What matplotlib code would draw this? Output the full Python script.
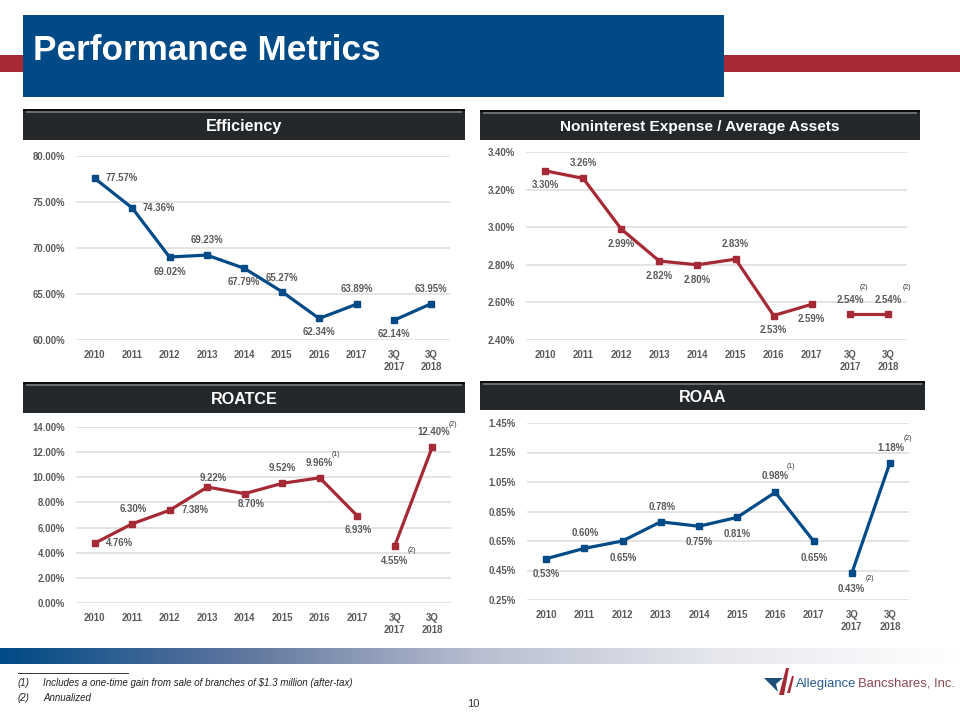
import numpy as np
import matplotlib
matplotlib.use('Agg')
import matplotlib.pyplot as plt
from matplotlib.colors import LinearSegmentedColormap
from matplotlib.patches import Rectangle, Polygon

plt.rcParams['font.family'] = ['Liberation Sans', 'DejaVu Sans']

BLUE = '#004b87'
RED = '#a62a36'
GREY = '#595959'

categories = ['2010', '2011', '2012', '2013', '2014', '2015', '2016', '2017', '3Q\n2017', '3Q\n2018']

efficiency = [77.57, 74.36, 69.02, 69.23, 67.79, 65.27, 62.34, 63.89, 62.14, 63.95]
nonint_exp = [3.30, 3.26, 2.99, 2.82, 2.80, 2.83, 2.53, 2.59, 2.54, 2.54]
roatce = [4.76, 6.30, 7.38, 9.22, 8.70, 9.52, 9.96, 6.93, 4.55, 12.40]
roaa = [0.53, 0.60, 0.65, 0.78, 0.75, 0.81, 0.98, 0.65, 0.43, 1.18]

efficiency_ticks = [60, 65, 70, 75, 80]
nonint_ticks = [2.4, 2.6, 2.8, 3.0, 3.2, 3.4]
roatce_ticks = [0, 2, 4, 6, 8, 10, 12, 14]
roaa_ticks = [0.25, 0.45, 0.65, 0.85, 1.05, 1.25, 1.45]

# label offsets from the point, in pixels
efficiency_off = [(27, 0), (27, 0), (0, -15), (0, 15), (0, -14), (0, 14), (0, -14), (0, 15), (0, -14), (0, 15)]
nonint_off = [(0, -14), (0, 15), (0, -15), (0, -15), (0, -15), (0, 15), (0, -14), (0, -15), (0, 14), (0, 14)]
roatce_off = [(25, 0), (1, 15), (25, 0), (6, 9), (6, -10), (0, 15), (0, 15), (1, -14), (0, -15), (1, 15)]
roaa_off = [(0, -15), (1, 15), (1, -17), (1, 15), (0, -16), (0, -17), (0, 16), (1, -17), (0, -16), (1, 15)]

# footnote marks: index, text, offset
nonint_notes = [(8, '(2)', 14, 26), (9, '(2)', 19, 26)]
roatce_notes = [(6, '(1)', 16, 23), (8, '(2)', 17, -5), (9, '(2)', 21, 23)]
roaa_notes = [(6, '(1)', 16, 26), (8, '(2)', 18, -5), (9, '(2)', 18, 24)]


def px_axes(fig, left, top, right, bottom):
    return fig.add_axes([left / 960, 1 - bottom / 720, (right - left) / 960, (bottom - top) / 720])


def draw_chart(fig, box, values, ticks, color, offsets, notes=()):
    ax = px_axes(fig, *box)
    ax.set_facecolor('none')
    x = np.arange(len(values))
    ax.plot(x[:8], values[:8], color=color, lw=2.3, marker='s', ms=5, solid_joinstyle='miter')
    ax.plot(x[8:], values[8:], color=color, lw=2.3, marker='s', ms=5)
    ax.set_xlim(-0.5, 9.5)
    ax.set_ylim(ticks[0], ticks[-1])
    ax.set_yticks(ticks)
    ax.set_yticklabels([f'{t:.2f}%' for t in ticks])
    ax.set_xticks(x)
    ax.set_xticklabels(categories, linespacing=1.3)
    ax.tick_params(length=0, labelsize=6.9, labelcolor=GREY)
    ax.tick_params(axis='y', pad=8)
    ax.tick_params(axis='x', pad=7.2)
    for lab in ax.get_xticklabels() + ax.get_yticklabels():
        lab.set_fontweight('bold')
    ax.grid(axis='y', color='#dcdcdc', lw=1.1)
    ax.set_axisbelow(True)
    for s in ax.spines.values():
        s.set_visible(False)
    for i, v in enumerate(values):
        dx, dy = offsets[i]
        ax.annotate(f'{v:.2f}%', (i, v), xytext=(dx * 0.72, dy * 0.72), textcoords='offset points',
                    ha='center', va='center', fontsize=6.9, fontweight='bold', color=GREY,
                    annotation_clip=False)
    for i, txt, dx, dy in notes:
        ax.annotate(txt, (i, values[i]), xytext=(dx * 0.72, dy * 0.72), textcoords='offset points',
                    ha='center', va='center', fontsize=5, color='#333333', annotation_clip=False)
    return ax


def header(bg, left, top, right, bottom, text, size=11.6):
    bg.add_patch(Rectangle((left, top), right - left, bottom - top, color='#25282b', lw=0))
    bg.add_patch(Rectangle((left, top), right - left, 1.5, color='#0d0d0d', lw=0))
    bg.add_patch(Rectangle((left + 3, top + 2), right - left - 6, 2, color='#6a6d70', lw=0))
    bg.text((left + right) / 2, (top + bottom) / 2 + 2, text, color='white', fontsize=size,
            fontweight='bold', ha='center', va='center')


fig = plt.figure(figsize=(9.6, 7.2), dpi=100, facecolor='white')

# slide furniture, drawn in pixel coordinates
bg = fig.add_axes([0, 0, 1, 1])
bg.set_xlim(0, 960)
bg.set_ylim(720, 0)
bg.axis('off')

bg.add_patch(Rectangle((0, 55), 960, 17, color=RED, lw=0))
bg.add_patch(Rectangle((23, 15), 701, 82, color=BLUE, lw=0))
bg.text(33, 50, 'Performance Metrics', color='white', fontsize=25.3, fontweight='bold', ha='left', va='center')

header(bg, 23, 109, 465, 140, 'Efficiency')
header(bg, 480, 110, 920, 140, 'Noninterest Expense / Average Assets', size=11.1)
header(bg, 23, 382, 465, 413, 'ROATCE')
header(bg, 480, 381, 925, 410, 'ROAA')

fade = LinearSegmentedColormap.from_list('fade', [(0, BLUE), (0.25, '#5f759e'), (0.5, '#b8bfd0'), (0.75, '#e6e8ee'), (1, '#ffffff')])
bg.imshow(np.linspace(0, 1, 256).reshape(1, -1), cmap=fade, extent=(0, 960, 664, 648), aspect='auto', zorder=1)
bg.set_xlim(0, 960)
bg.set_ylim(720, 0)

bg.plot([18, 128], [673, 673], color='#333333', lw=0.7)
bg.text(18, 683, '(1)', fontsize=7, style='italic', color='#222222', ha='left', va='center')
bg.text(43, 683, 'Includes a one-time gain from sale of branches of $1.3 million (after-tax)',
        fontsize=7, style='italic', color='#222222', ha='left', va='center')
bg.text(18, 698, '(2)', fontsize=7, style='italic', color='#222222', ha='left', va='center')
bg.text(43, 698, 'Annualized', fontsize=7, style='italic', color='#222222', ha='left', va='center')
bg.text(473, 704, '10', fontsize=8, color='#333333', ha='center', va='center')

# logo
bg.add_patch(Polygon([(764, 678), (783, 678), (776, 684), (778, 692), (772, 686)], color='#1f4e79', lw=0))
bg.add_patch(Polygon([(779, 695), (786, 668), (789, 668), (784, 695)], color=RED, lw=0))
bg.add_patch(Polygon([(787, 693), (792, 676), (794, 676), (790, 693)], color=RED, lw=0))
bg.text(796, 684, 'Allegiance', fontsize=9.4, color='#2b5c8f', ha='left', va='center')
bg.text(858, 684, 'Bancshares, Inc.', fontsize=9.4, color='#8c4a50', ha='left', va='center')

draw_chart(fig, (76, 156, 450, 340), efficiency, efficiency_ticks, BLUE, efficiency_off)
draw_chart(fig, (526, 152, 907, 340), nonint_exp, nonint_ticks, RED, nonint_off, nonint_notes)
draw_chart(fig, (76, 427, 451, 603), roatce, roatce_ticks, RED, roatce_off, roatce_notes)
draw_chart(fig, (527, 423, 909, 600), roaa, roaa_ticks, BLUE, roaa_off, roaa_notes)

fig.savefig('out.png', dpi=100)
